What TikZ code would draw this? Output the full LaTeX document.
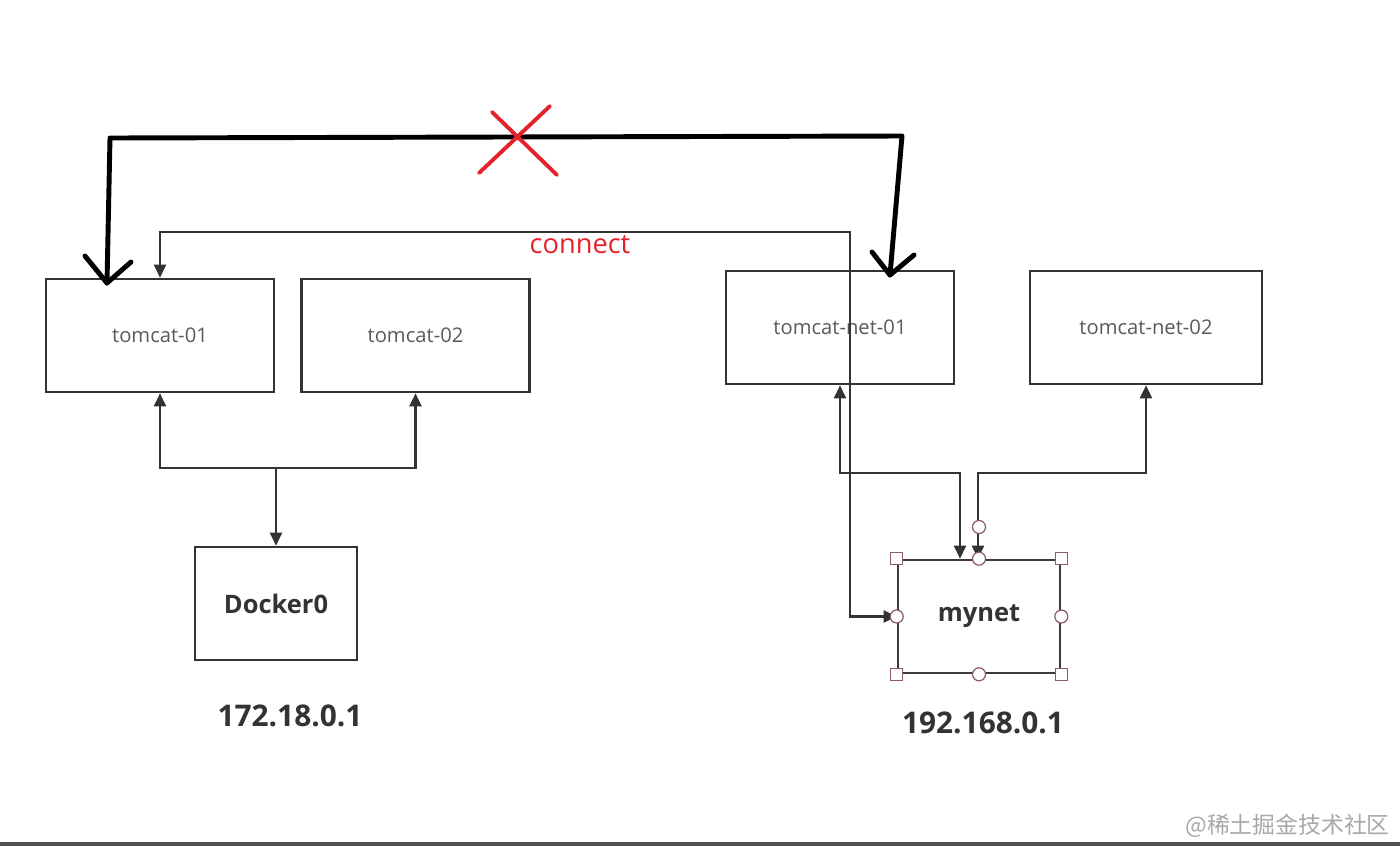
\documentclass[tikz,border=0pt]{standalone}
\usepackage{fontspec}
\setmainfont{Open Sans}
\newfontfamily\cjk{Noto Sans CJK SC}
\usetikzlibrary{
  arrows.meta,  % 三角箭头
  calc,         % 坐标计算
  positioning   % 节点相对定位
}
\definecolor{boxc}{HTML}{333333}
\definecolor{txtc}{HTML}{5A5A5A}
\definecolor{selc}{HTML}{8C5A6E}
\definecolor{crossc}{HTML}{E3222B}
\definecolor{markc}{HTML}{A8A8A8}

\begin{document}
\begin{tikzpicture}[x=0.02cm, y=-0.02cm,
  >={Triangle[length=0.26cm, width=0.24cm]},
  box/.style={draw=boxc, line width=1.5pt, minimum width=4.56cm,
    minimum height=2.26cm, inner sep=0pt, text=txtc,
    font=\fontsize{11.5}{14}\selectfont},
  netbox/.style={box, minimum width=3.24cm, text=boxc,
    font=\bfseries\fontsize{14.5}{17}\selectfont},
  conn/.style={draw=boxc, line width=1.3pt},
  hand/.style={line width=2.8pt, line cap=round, line join=round},
  iplabel/.style={text=boxc, font=\bfseries\fontsize{17}{20}\selectfont},
  handsq/.style={draw=selc, fill=white, line width=0.7pt,
    minimum size=0.24cm, inner sep=0pt},
  handci/.style={handsq, circle, minimum size=0.26cm}]

  % 画布与底边
  \useasboundingbox (0,0) rectangle (1400,846);
  \fill[white] (0,0) rectangle (1400,846);
  \fill[boxc!85] (0,842) rectangle (1400,846);

  % 容器
  \node[box] (t1) at (160,335.5) {tomcat-01};
  \node[box] (t2) at (415.5,335.5) {tomcat-02};
  \node[box] (n1) at (840,327.5) {tomcat-net-01};
  \node[box, minimum width=4.64cm] (n2) at (1146,327.5) {tomcat-net-02};

  % 网络
  \node[netbox] (d0) at (276,603.5) {Docker0};
  \node[netbox, draw=boxc!85!selc] (mynet) at (979,616.5) {mynet};
  \node[iplabel] (ip1) at (290,716) {172.18.0.1};
  \node[iplabel] (ip2) at (983,723) {192.168.0.1};

  % docker0 连线
  \coordinate (dj) at (276,468);
  \draw[conn, ->] (dj) -- (d0.north);
  \draw[conn, ->] (dj) -| (t1.south);
  \draw[conn, ->] (dj) -| (t2.south);

  % mynet 连线
  \coordinate (m1) at (960,473);
  \coordinate (m2) at (978,473);
  \draw[conn, <->] (n1.south) |- (m1) -- (m1 |- mynet.north);
  \draw[conn, <->] (n2.south) |- (m2) -- (m2 |- mynet.north);

  % connect
  \coordinate (ctop) at (850,232);
  \draw[conn, <->] (t1.north) |- (ctop) |- (mynet.west);
  \node[text=crossc, font=\fontsize{15.5}{18}\selectfont] (lblc) at (580,245) {connect};

  % 选中标记
  \foreach \a [count=\i] in {north west, north east, south west, south east}
    \node[handsq] (hs\i) at (mynet.\a) {};
  \foreach \a [count=\i] in {north, west, east, south}
    \node[handci] (hc\i) at (mynet.\a) {};
  \node[handci] (hc5) at (979,527) {};

  % 手绘连线（不通）
  \coordinate (hl) at (107,283);
  \coordinate (hr) at (890,275);
  \draw[hand] (hl) -- (110,138) -- (902,136) -- (hr);
  \draw[hand] (85,256) -- (hl) -- (131,262);
  \draw[hand] (872,252) -- (hr) -- (914,255);
  \draw[crossc, line width=2.2pt, line cap=round] (492,112) -- (557,175);
  \draw[crossc, line width=2.2pt, line cap=round] (550,106) -- (479,173);

  % 水印
  \node[text=markc, font=\cjk\fontsize{13}{15}\selectfont, anchor=east] (wm) at (1396,826) {@稀土掘金技术社区};
\end{tikzpicture}
\end{document}
